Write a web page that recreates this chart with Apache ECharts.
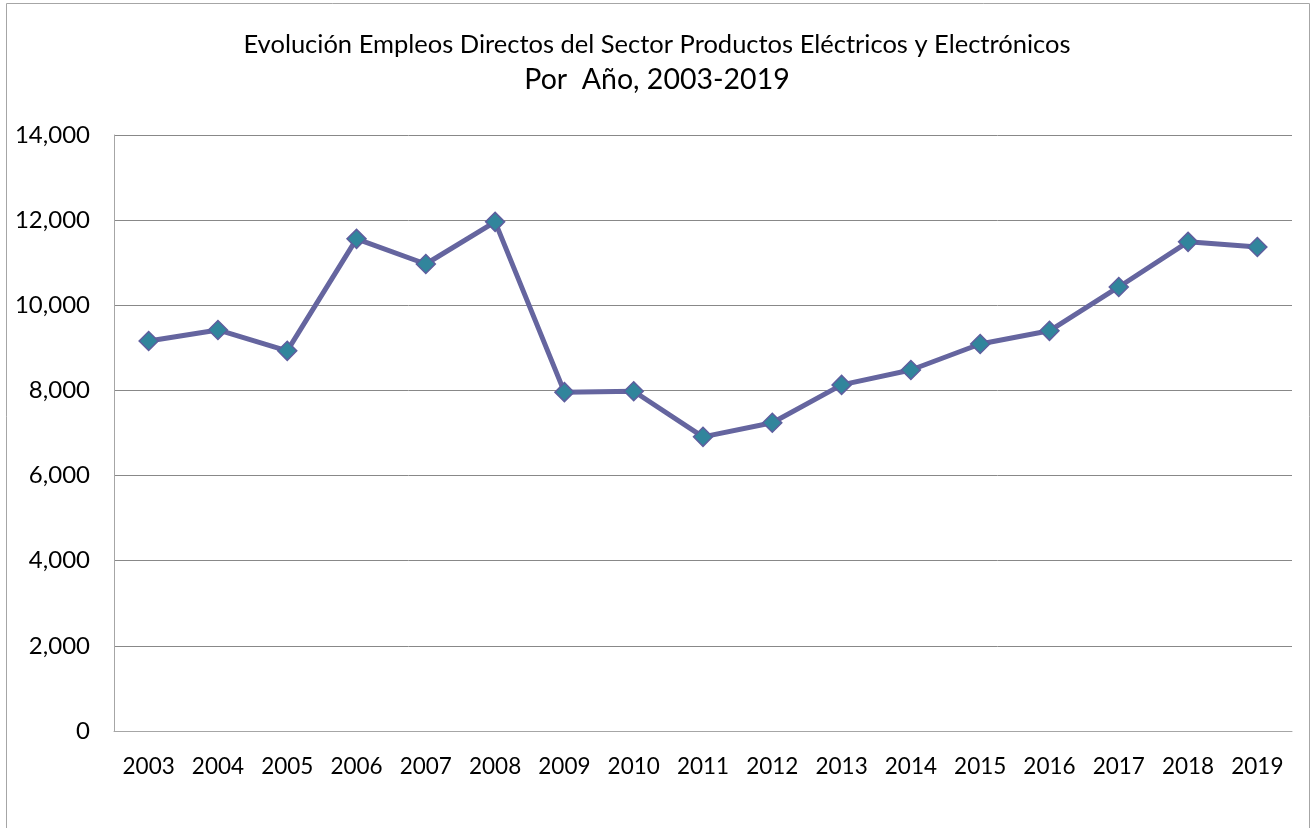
<!DOCTYPE html>
<html>
<head>
<meta charset="utf-8">
<script src="https://cdn.jsdelivr.net/npm/echarts@6/dist/echarts.min.js"></script>
<style>
  html, body { margin: 0; padding: 0; background: #fff; }
  #chart { width: 1314px; height: 828px; }
</style>
</head>
<body>
<div id="chart"></div>
<script>
var years = ['2003','2004','2005','2006','2007','2008','2009','2010','2011','2012','2013','2014','2015','2016','2017','2018','2019'];
var empleos = [9160, 9420, 8930, 11560, 10970, 11960, 7960, 7980, 6910, 7240, 8130, 8480, 9090, 9400, 10430, 11490, 11370];
var yTicks = { min: 0, max: 14000, interval: 2000 };

var font = 'Lato, "Open Sans", sans-serif';

var chart = echarts.init(document.getElementById('chart'));
chart.setOption({
    backgroundColor: '#fff',
    animation: false,
    graphic: [{
        type: 'rect',
        shape: { x: 6.5, y: 3.5, width: 1303, height: 830 },
        style: { fill: 'none', stroke: '#a6a6a6', lineWidth: 1 }
    }],
    title: [{
        text: 'Evolución Empleos Directos del Sector Productos Eléctricos y Electrónicos',
        left: 'center',
        top: 27,
        textStyle: { fontFamily: font, fontSize: 25.5, fontWeight: 'normal', color: '#000' }
    }, {
        text: 'Por  Año, 2003-2019',
        left: 'center',
        top: 60,
        textStyle: { fontFamily: font, fontSize: 28.5, fontWeight: 'normal', color: '#000' }
    }],
    grid: { left: 114, right: 22, top: 135, bottom: 97, containLabel: false },
    xAxis: {
        type: 'category',
        data: years,
        boundaryGap: true,
        axisLine: { show: true, lineStyle: { color: '#a6a6a6', width: 1 } },
        axisTick: { show: false },
        axisLabel: { interval: 0, fontFamily: font, fontSize: 22.5, color: '#000', margin: 24 },
        splitLine: { show: false }
    },
    yAxis: {
        type: 'value',
        min: yTicks.min,
        max: yTicks.max,
        interval: yTicks.interval,
        axisLine: { show: true, lineStyle: { color: '#a6a6a6', width: 1 } },
        axisTick: { show: false },
        axisLabel: {
            fontFamily: font, fontSize: 24, color: '#000', margin: 24,
            formatter: function (v) { return v.toLocaleString('en-US'); }
        },
        splitLine: { show: true, lineStyle: { color: '#888', width: 1 } }
    },
    series: [{
        type: 'line',
        data: empleos,
        symbol: 'diamond',
        symbolSize: 19,
        lineStyle: { color: '#65659f', width: 5 },
        itemStyle: { color: '#31859c', borderColor: '#5e5e9e', borderWidth: 1.5 }
    }]
});
</script>
</body>
</html>
